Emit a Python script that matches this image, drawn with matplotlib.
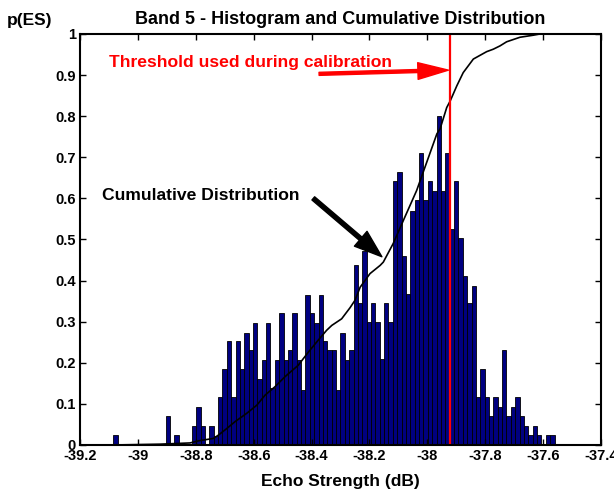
import numpy as np
import matplotlib
matplotlib.use("Agg")
import matplotlib.pyplot as plt

plt.rcParams['font.family'] = ['Liberation Sans', 'DejaVu Sans']
plt.rcParams['font.weight'] = 'bold'

# histogram: bin centres start at -39.078 dB, width 0.0151 dB
bin_start = -39.078
bin_width = 0.0151
hist_vals = [
    0.024, 0, 0, 0, 0, 0, 0, 0, 0, 0,
    0, 0, 0.070, 0, 0.024, 0, 0, 0, 0.046, 0.093,
    0.046, 0, 0.046, 0.023, 0.117, 0.184, 0.252, 0.117, 0.252, 0.184,
    0.273, 0.230, 0.298, 0.161, 0.208, 0.298, 0.138, 0.208, 0.320, 0.208,
    0.231, 0.320, 0.208, 0.135, 0.366, 0.320, 0.298, 0.366, 0.252, 0.231,
    0.231, 0.135, 0.273, 0.208, 0.231, 0.437, 0.345, 0.473, 0.299, 0.345,
    0.299, 0.209, 0.345, 0.299, 0.642, 0.663, 0.461, 0.368, 0.570, 0.597,
    0.710, 0.597, 0.642, 0.619, 0.801, 0.619, 0.710, 0.526, 0.642, 0.504,
    0.411, 0.345, 0.388, 0.117, 0.184, 0.117, 0.070, 0.117, 0.093, 0.231,
    0.070, 0.093, 0.117, 0.070, 0.046, 0.024, 0.046, 0.024, 0, 0.024,
    0.024,
]

# cumulative distribution curve
cdf_x = [-39.086, -38.924, -38.820, -38.791, -38.739, -38.722, -38.693, -38.664,
         -38.624, -38.589, -38.561, -38.526, -38.492, -38.446, -38.411, -38.377,
         -38.348, -38.330, -38.296, -38.267, -38.250, -38.232, -38.198, -38.163,
         -38.152, -38.118, -38.083, -38.037, -38.002, -37.967, -37.956, -37.933,
         -37.921, -37.898, -37.876, -37.841, -37.795, -37.772, -37.749, -37.726,
         -37.680, -37.634, -37.611, -37.566]
cdf_y = [0.0, 0.002, 0.005, 0.010, 0.016, 0.024, 0.040, 0.057,
         0.077, 0.097, 0.121, 0.142, 0.166, 0.194, 0.226, 0.255,
         0.279, 0.291, 0.307, 0.334, 0.352, 0.384, 0.417, 0.437,
         0.445, 0.490, 0.546, 0.619, 0.688, 0.757, 0.769, 0.821,
         0.837, 0.874, 0.906, 0.939, 0.957, 0.963, 0.971, 0.981,
         0.992, 0.997, 1.0, 1.0]

threshold = -37.921

xticks = [-39.2, -39, -38.8, -38.6, -38.4, -38.2, -38, -37.8, -37.6, -37.4]
xtick_labels = ['-39.2', '-39', '-38.8', '-38.6', '-38.4', '-38.2', '-38', '-37.8', '-37.6', '-37.4']
yticks = [0, 0.1, 0.2, 0.3, 0.4, 0.5, 0.6, 0.7, 0.8, 0.9, 1]
ytick_labels = ['0', '0.1', '0.2', '0.3', '0.4', '0.5', '0.6', '0.7', '0.8', '0.9', '1']

fig = plt.figure(figsize=(6.14, 4.91), dpi=100)
ax = fig.add_axes([0.1303, 0.0937, 0.8485, 0.8371])

centers = bin_start + bin_width * np.arange(len(hist_vals))
ax.bar(centers, hist_vals, width=bin_width, color='#000080', edgecolor='black', linewidth=0.6)
ax.plot(cdf_x, cdf_y, color='black', linewidth=1.2)
ax.axvline(threshold, color='red', linewidth=1.6)

ax.set_xlim(-39.2, -37.4)
ax.set_ylim(0, 1)
ax.set_xticks(xticks)
ax.set_xticklabels(xtick_labels)
ax.set_yticks(yticks)
ax.set_yticklabels(ytick_labels)
ax.tick_params(direction='in', top=True, right=True, length=4, width=1, labelsize=10.5, pad=3)
for s in ax.spines.values():
    s.set_linewidth(1.5)

ax.set_title('Band 5 - Histogram and Cumulative Distribution', fontsize=13, fontweight='bold', pad=7)
ax.set_xlabel('Echo Strength (dB)', fontsize=12.5, fontweight='bold', labelpad=8)
fig.text(0.011, 1 - 20 / 491, 'p(ES)', fontsize=12.5, fontweight='bold', va='center', ha='left')

ax.text(-39.1, 0.930, 'Threshold used during calibration', color='red', fontsize=12.6,
        fontweight='bold', va='center', ha='left')
ax.annotate('', xy=(-37.927, 0.912), xytext=(-38.374, 0.903),
            arrowprops=dict(color='red', width=2.2, headwidth=12, headlength=22, shrink=0))

ax.text(-39.124, 0.608, 'Cumulative Distribution', color='black', fontsize=12.6,
        fontweight='bold', va='center', ha='left')
ax.annotate('', xy=(-38.157, 0.458), xytext=(-38.394, 0.600),
            arrowprops=dict(color='black', width=3, headwidth=14, headlength=20, shrink=0))

fig.savefig('out.png', dpi=100)
